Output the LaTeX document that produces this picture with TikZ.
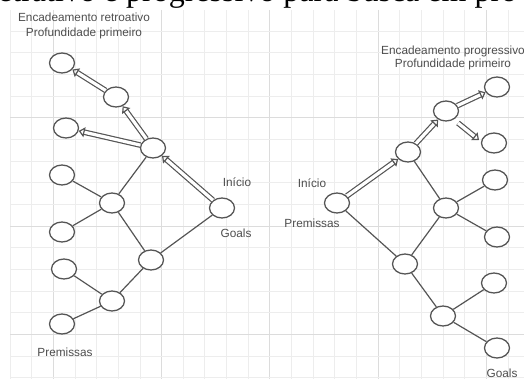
\documentclass[tikz,border=0pt]{standalone}
\usepackage{fontspec}
\setmainfont{Liberation Sans}
\newfontfamily\titlefont{Liberation Serif}
\usetikzlibrary{arrows.meta, shapes.geometric}
\definecolor{lin}{HTML}{555555}
\definecolor{txt}{HTML}{4D4D4D}
\definecolor{gridminor}{HTML}{EDEDED}
\definecolor{gridmajor}{HTML}{DCDCDC}

\begin{document}
\begin{tikzpicture}[
  x=1pt, y=-1pt,
  nd/.style={draw=lin, ellipse, line width=1.3pt, minimum width=25pt, minimum height=20pt, inner sep=0pt, fill=white},
  ln/.style={draw=lin, line width=1.2pt},
  blk/.style={draw=lin, line width=1.2pt, double=white, double distance=3.2pt, -{Triangle[open, length=6pt, width=10pt]}},
  lbl/.style={text=txt, font=\fontsize{11.8}{14}\selectfont, inner sep=0pt, align=center},
]
  \useasboundingbox (0,0) rectangle (524,379);
  \clip (0,0) rectangle (524,379);

  % grid
  \foreach \k in {0,...,24} {
    \pgfmathtruncatemacro{\m}{mod(\k,5)}
    \ifnum\m=2 \def\gc{gridmajor}\else\def\gc{gridminor}\fi
    \draw[\gc, line width=0.8pt] ({10+21.65*\k},10) -- ({10+21.65*\k},379);
  }
  \foreach \j in {1,...,17} {
    \pgfmathtruncatemacro{\m}{mod(\j,5)}
    \ifnum\m=0 \def\gc{gridmajor}\else\def\gc{gridminor}\fi
    \draw[\gc, line width=0.8pt] (10,{9.5+21.65*\j}) -- (524,{9.5+21.65*\j});
  }

  % title, cut by the top edge
  \node[anchor=base west, inner sep=0pt, font=\titlefont\fontsize{32}{32}\selectfont] (title) at (-2,2) {etrativo e progressivo para busca em pro};

  % Encadeamento retroativo
  \node[nd] (l1) at (62,63) {};
  \node[nd] (l2) at (116,97) {};
  \node[nd] (l3) at (66,128) {};
  \node[nd] (l4) at (153,148) {};
  \node[nd] (l5) at (62,175) {};
  \node[nd] (l6) at (112,203) {};
  \node[nd] (l7) at (62,232) {};
  \node[nd] (l8) at (64,269) {};
  \node[nd] (l9) at (112,301) {};
  \node[nd] (l10) at (62,324) {};
  \node[nd] (l11) at (151,260) {};
  \node[nd] (l12) at (222,208) {};

  \draw[ln] (l4) -- (l6);
  \draw[ln] (l6) -- (l5);
  \draw[ln] (l6) -- (l7);
  \draw[ln] (l6) -- (l11);
  \draw[ln] (l11) -- (l12);
  \draw[ln] (l11) -- (l9);
  \draw[ln] (l9) -- (l8);
  \draw[ln] (l9) -- (l10);
  \draw[blk] (l12) -- (l4);
  \draw[blk] (l4) -- (l2);
  \draw[blk] (l2) -- (l1);
  \draw[blk] (l4) -- (l3);

  \node[lbl, font=\fontsize{11.8}{15}\selectfont] (ltitle) at (84,26) {Encadeamento retroativo\\Profundidade primeiro};
  \node[lbl] (linicio) at (237,182) {Início};
  \node[lbl] (lgoals) at (236,233) {Goals};
  \node[lbl] (lprem) at (65,352) {Premissas};

  % Encadeamento progressivo
  \node[nd] (r1) at (497,87) {};
  \node[nd] (r2) at (446,111) {};
  \node[nd] (r3) at (494,143) {};
  \node[nd] (r4) at (408,152) {};
  \node[nd] (r5) at (495,180) {};
  \node[nd] (r6) at (337,203) {};
  \node[nd] (r7) at (446,208) {};
  \node[nd] (r8) at (497,237) {};
  \node[nd] (r9) at (405,264) {};
  \node[nd] (r10) at (494,283) {};
  \node[nd] (r11) at (443,316) {};
  \node[nd] (r12) at (497,348) {};
  \coordinate (r2s) at (458,123);
  \coordinate (r3e) at (479,140);

  \draw[ln] (r4) -- (r7);
  \draw[ln] (r7) -- (r5);
  \draw[ln] (r7) -- (r8);
  \draw[ln] (r7) -- (r9);
  \draw[ln] (r6) -- (r9);
  \draw[ln] (r9) -- (r11);
  \draw[ln] (r11) -- (r10);
  \draw[ln] (r11) -- (r12);
  \draw[blk] (r6) -- (r4);
  \draw[blk] (r4) -- (r2);
  \draw[blk] (r2) -- (r1);
  \draw[blk] (r2s) -- (r3e);

  \node[lbl, font=\fontsize{11.8}{13.5}\selectfont] (rtitle) at (453,58) {Encadeamento progressivo\\Profundidade primeiro};
  \node[lbl] (rinicio) at (312,183) {Início};
  \node[lbl] (rprem) at (312,223) {Premissas};
  \node[lbl] (rgoals) at (502,373) {Goals};
\end{tikzpicture}
\end{document}
